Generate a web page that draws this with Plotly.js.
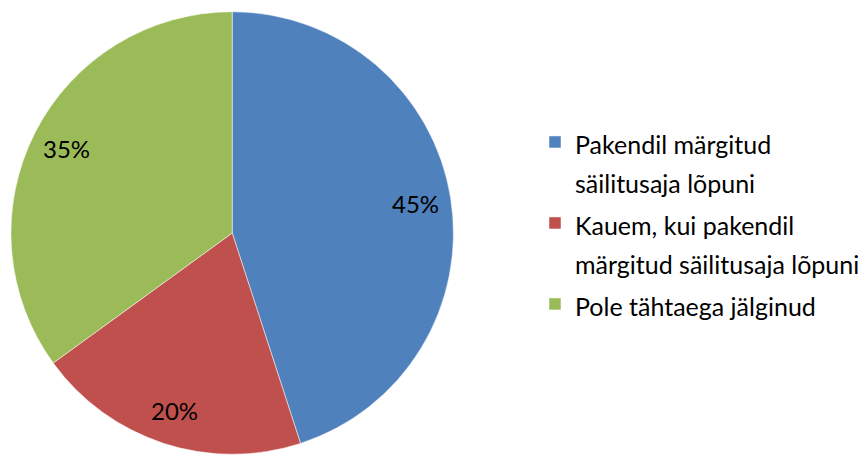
<!DOCTYPE html>
<html>
<head>
<meta charset="utf-8">
<script src="https://cdn.plot.ly/plotly-3.0.1.min.js"></script>
<style>
  html, body { margin: 0; padding: 0; background: #fff; }
  #chart { width: 865px; height: 455px; }
</style>
</head>
<body>
<div id="chart"></div>
<script>
const LABELS = [
  'Pakendil märgitud<br>säilitusaja lõpuni',
  'Kauem, kui pakendil<br>märgitud säilitusaja lõpuni',
  'Pole tähtaega jälginud',
];
const VALUES = [45, 20, 35];
const COLORS = ['#4F81BD', '#C0504D', '#9BBB59'];

const W = 865, H = 455;
const PIE_X = [11, 455];   // px, domain of the pie
const PIE_Y = [0, 444];    // px from bottom
const LABEL_R = 0.84;      // label distance as fraction of radius (Excel-like)

const FAMILY = 'Lato, "Open Sans", sans-serif';
const TEXT_SIZE = 25;
// legend line pitch comes from the legend font size; a bigger one spreads the items out
const LEGEND_SIZE = 30;

// percentage labels sit further out than plotly's inside text, like Excel
const total = VALUES.reduce((a, b) => a + b, 0);
const cx = (PIE_X[0] + PIE_X[1]) / 2;
const cy = (PIE_Y[0] + PIE_Y[1]) / 2;
const radius = Math.min(PIE_X[1] - PIE_X[0], PIE_Y[1] - PIE_Y[0]) / 2;
let cum = 0;
const annotations = VALUES.map(v => {
  const mid = (cum + v / 2) / total * 2 * Math.PI;
  cum += v;
  return {
    xref: 'paper', yref: 'paper',
    x: (cx + LABEL_R * radius * Math.sin(mid)) / W,
    y: (cy + LABEL_R * radius * Math.cos(mid)) / H,
    xanchor: 'center', yanchor: 'middle',
    text: Math.round(100 * v / total) + '%',
    showarrow: false,
    font: {family: FAMILY, size: 24, color: '#000'},
  };
});

const legendText = LABELS.map(l => l.split('<br>')
  .map(line => `<span style="font-size:${TEXT_SIZE}px">${line}</span>`)
  .join('<br>'));

const traces = [{
  type: 'pie',
  labels: legendText,
  values: VALUES,
  sort: false,
  direction: 'clockwise',
  rotation: 0,
  marker: {colors: COLORS, line: {color: '#fff', width: 0.5}},
  textinfo: 'none',
  hoverinfo: 'label+percent',
  domain: {x: [PIE_X[0] / W, PIE_X[1] / W], y: [PIE_Y[0] / H, PIE_Y[1] / H]},
}];

const layout = {
  width: W,
  height: H,
  margin: {l: 0, r: 0, t: 0, b: 0},
  paper_bgcolor: '#fff',
  showlegend: true,
  legend: {
    x: 537 / W,
    y: 0.51,
    xanchor: 'left',
    yanchor: 'middle',
    valign: 'top',
    font: {family: FAMILY, size: LEGEND_SIZE, color: '#000'},
    bgcolor: 'rgba(0,0,0,0)',
  },
  annotations: annotations,
  font: {family: FAMILY, size: TEXT_SIZE, color: '#000'},
};

Plotly.newPlot('chart', traces, layout, {staticPlot: true, displayModeBar: false});
</script>
</body>
</html>
